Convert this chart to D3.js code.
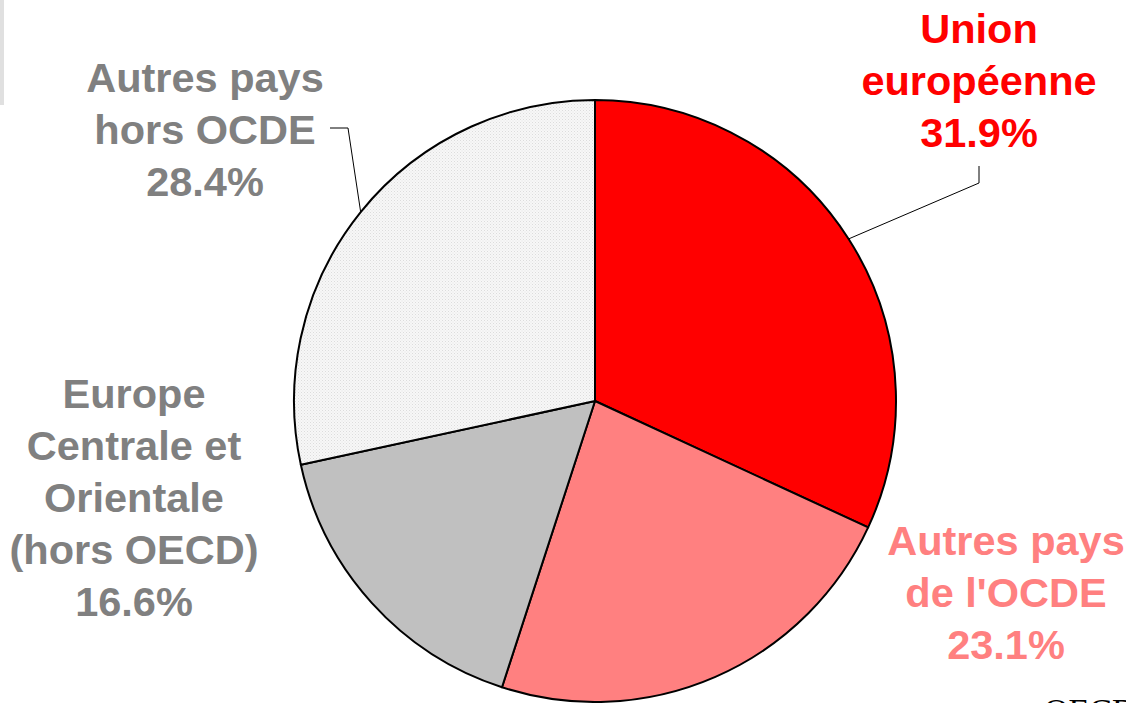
<!DOCTYPE html>
<html>
<head>
<meta charset="utf-8">
<script src="https://cdn.jsdelivr.net/npm/d3@7"></script>
<style>
  body { margin: 0; background: #fff; }
  svg { display: block; }
  .lbl { font-family: "Liberation Sans", Arial, sans-serif; font-weight: bold; font-size: 41.5px; }
</style>
</head>
<body>
<div id="chart"></div>
<script>
const categories = ["Union européenne", "Autres pays de l'OCDE", "Europe Centrale et Orientale (hors OECD)", "Autres pays hors OCDE"];
const shares = [31.9, 23.1, 16.6, 28.4];
const labelLines = [
    ["Union", "européenne", "31.9%"],
    ["Autres pays", "de l'OCDE", "23.1%"],
    ["Europe", "Centrale et", "Orientale", "(hors OECD)", "16.6%"],
    ["Autres pays", "hors OCDE", "28.4%"]
];
const sliceColors = ["#ff0000", "#ff8080", "#c0c0c0", "url(#dots)"];
const textColors = ["#ff0000", "#ff8080", "#808080", "#808080"];

const dimensions = { width: 1126, height: 703, cx: 595, cy: 401, r: 301 };
// label anchor (center x, first baseline y) for each slice
const labelPos = [[979, 43], [1006, 555], [134, 408], [205, 92]];
const lineGap = 52;

const svg = d3.select("#chart")
    .append("svg")
    .attr("width", dimensions.width)
    .attr("height", dimensions.height);

const defs = svg.append("defs");
const pat = defs.append("pattern")
    .attr("id", "dots")
    .attr("width", 3).attr("height", 3)
    .attr("patternUnits", "userSpaceOnUse");
pat.append("rect").attr("width", 3).attr("height", 3).attr("fill", "#f7f7f7");
pat.append("rect").attr("width", 1).attr("height", 1).attr("fill", "#dcdcdc");
pat.append("rect").attr("x", 1.5).attr("y", 1.5).attr("width", 1).attr("height", 1).attr("fill", "#e4e4e4");

// grey strip at top left
svg.append("rect").attr("x", 0).attr("y", 0).attr("width", 4).attr("height", 105).attr("fill", "#e0e0e0");

const pie = d3.pie().sort(null).value(d => d);
const arc = d3.arc().innerRadius(0).outerRadius(dimensions.r);
const arcs = pie(shares);

const g = svg.append("g").attr("transform", `translate(${dimensions.cx},${dimensions.cy})`);
g.selectAll("path")
    .data(arcs)
    .enter()
    .append("path")
    .attr("d", arc)
    .attr("fill", (d, i) => sliceColors[i])
    .attr("stroke", "#000")
    .attr("stroke-width", 2)
    .attr("stroke-linejoin", "round");

// leader lines: from point on rim to label
const rimPoint = (d, frac) => {
    const a = d.startAngle + (d.endAngle - d.startAngle) * frac;
    return [dimensions.cx + Math.sin(a) * dimensions.r, dimensions.cy - Math.cos(a) * dimensions.r];
};
const euRim = rimPoint(arcs[0], 0.5);
const hoRim = rimPoint(arcs[3], 0.5);
const leaders = [
    [euRim, [979, 183], [979, 166]],
    [hoRim, [348, 128], [330, 128]]
];
svg.selectAll("path.leader")
    .data(leaders)
    .enter()
    .append("path")
    .attr("class", "leader")
    .attr("d", d3.line())
    .attr("fill", "none")
    .attr("stroke", "#000")
    .attr("stroke-width", 1);

labelLines.forEach((lines, i) => {
    const t = svg.append("text")
        .attr("class", "lbl")
        .attr("text-anchor", "middle")
        .attr("fill", textColors[i]);
    lines.forEach((s, j) => {
        t.append("tspan")
            .attr("x", labelPos[i][0])
            .attr("y", labelPos[i][1] + j * lineGap)
            .text(s);
    });
});

// source mark at the bottom right, cut off by the frame as in the original
svg.append("text")
    .attr("x", 1044).attr("y", 722)
    .attr("font-family", "Liberation Serif, serif")
    .attr("font-size", 34)
    .attr("fill", "#000")
    .text("OECD");
</script>
</body>
</html>
